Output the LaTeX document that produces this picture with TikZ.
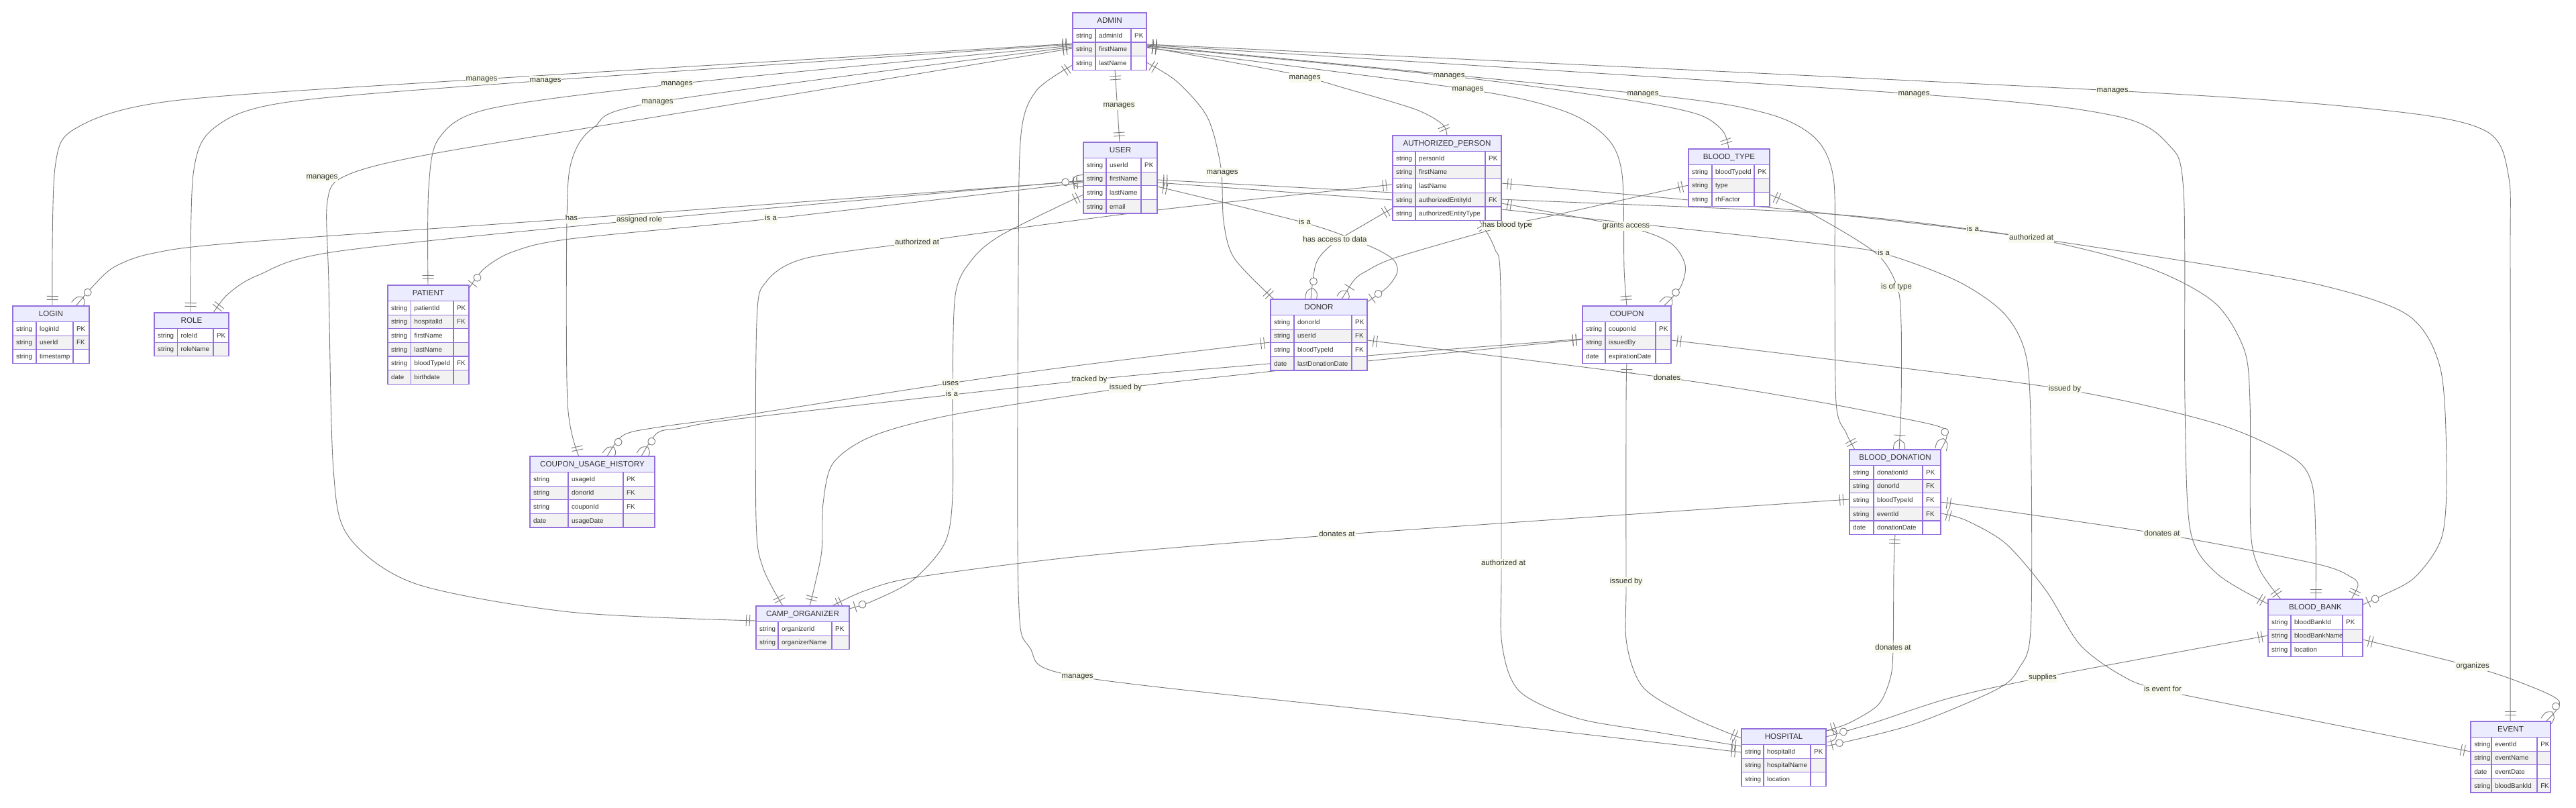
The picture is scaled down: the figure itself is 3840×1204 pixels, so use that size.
\documentclass[tikz,border=0pt]{standalone}
\usepackage{fontspec}
\setmainfont{Liberation Sans}
\usetikzlibrary{decorations.markings}
\definecolor{edgec}{RGB}{120,120,120}
\definecolor{entline}{RGB}{147,112,219}
\definecolor{hdrfill}{RGB}{236,236,255}
\definecolor{rowgray}{RGB}{242,242,242}
\definecolor{txtc}{RGB}{51,51,51}
\definecolor{lblbg}{RGB}{247,250,236}

\newcommand{\entnode}[5]{%
  \pgfmathsetmacro{\enth}{23.5+20.6*#5}%
  \node[ghost, minimum width=#4pt, minimum height=\enth pt, anchor=north west] (#1) at (#2,#3) {};}
\newcommand{\enthead}[5]{%
  \def\curent{#1}%
  \fill[hdrfill] (#2,#3) rectangle ++(#4,23.5);
  \node[hdrtxt] (#1-title) at (#2+#4/2,#3+11.75) {#5};}
\newcommand{\erow}[9]{%
  \ifodd#3\relax\colorlet{rfill}{rowgray}\else\colorlet{rfill}{white}\fi
  \fill[rfill] (#1,#2+23.5+20.6*#3) rectangle ++(#4,20.6);
  \draw[entl] (#1,#2+23.5+20.6*#3) -- ++(#4,0);
  \draw[entl] (#5,#2+23.5+20.6*#3) -- ++(0,20.6);
  \draw[entl] (#6,#2+23.5+20.6*#3) -- ++(0,20.6);
  \node[attr] (\curent-#3t) at (#1+5,#2+33.8+20.6*#3) {#7};
  \node[attr] (\curent-#3n) at (#5+5,#2+33.8+20.6*#3) {#8};
  \node[attr] (\curent-#3k) at (#6+5,#2+33.8+20.6*#3) {#9};}
\newcommand{\entborder}[1]{\draw[entl] (#1.north west) rectangle (#1.south east);}
% relationship: end style, start, second point, middle points, penultimate point, end
\newcommand{\erel}[6]{%
  \draw[rel] plot[smooth,tension=.5] coordinates {#2 #3 #4 #5 #6};
  \path[st1] #2 -- #3;
  \path[#1] #5 -- #6;}

\begin{document}
\begin{tikzpicture}[x=1pt,y=-1pt,
  ghost/.style={inner sep=0pt, outer sep=0pt, draw=none},
  entl/.style={draw=entline, line width=1.2pt},
  hdrtxt/.style={font=\fontsize{11.6}{13}\selectfont, text=txtc, inner sep=0pt, text height=8.3pt, text depth=0pt},
  attr/.style={font=\fontsize{9.8}{11}\selectfont, text=txtc, anchor=west, inner sep=0pt, text height=7pt, text depth=0pt},
  lbl/.style={font=\fontsize{11.4}{13}\selectfont, text=txtc, fill=lblbg, inner xsep=1pt, inner ysep=1.5pt, text height=8.2pt, text depth=2.4pt},
  rel/.style={draw=edgec, line width=0.9pt},
  tk/.style={draw=edgec, line width=0.9pt},
  st1/.style={postaction={decorate,decoration={markings,
     mark=at position 9.5pt with {\draw[tk] (0pt,-8.5pt)--(0pt,8.5pt);},
     mark=at position 14.5pt with {\draw[tk] (0pt,-8.5pt)--(0pt,8.5pt);}}}},
  en1/.style={postaction={decorate,decoration={markings,
     mark=at position -14.5pt with {\draw[tk] (0pt,-8.5pt)--(0pt,8.5pt);},
     mark=at position -9.5pt with {\draw[tk] (0pt,-8.5pt)--(0pt,8.5pt);}}}},
  enzm/.style={postaction={decorate,decoration={markings,
     mark=at position -27pt with {\draw[tk,fill=white] (0pt,0pt) circle (5.5pt);},
     mark=at position -17pt with {\draw[tk] (0pt,0pt) .. controls (5pt,8.5pt) .. (17pt,8.5pt);
                                  \draw[tk] (0pt,0pt) .. controls (5pt,-8.5pt) .. (17pt,-8.5pt);}}}},
  enzo/.style={postaction={decorate,decoration={markings,
     mark=at position -20.5pt with {\draw[tk,fill=white] (0pt,0pt) circle (5.5pt);},
     mark=at position -9pt with {\draw[tk] (0pt,-8.5pt)--(0pt,8.5pt);}}}},
  enom/.style={postaction={decorate,decoration={markings,
     mark=at position -21.5pt with {\draw[tk] (0pt,-8.5pt)--(0pt,8.5pt);},
     mark=at position -15pt with {\draw[tk] (0pt,0pt) .. controls (5pt,8.5pt) .. (15pt,8.5pt);
                                  \draw[tk] (0pt,0pt) .. controls (5pt,-8.5pt) .. (15pt,-8.5pt);}}}}
]
\fill[white] (0,0) rectangle (3840,1204);
\useasboundingbox (0,0) rectangle (3840,1204);

% ---------- entity frames (named) ----------
\entnode{admin}{1599}{19}{110}{3}
\entnode{user}{1615}{212}{110}{4}
\entnode{ap}{2076}{202}{162}{5}
\entnode{bt}{2517}{222}{121}{3}
\entnode{login}{19}{456}{114}{3}
\entnode{role}{230}{466}{111}{2}
\entnode{patient}{578}{425}{121}{6}
\entnode{donor}{1894}{446}{144}{4}
\entnode{coupon}{2359}{456}{132}{3}
\entnode{cuh}{790}{680}{186}{4}
\entnode{bd}{2757}{670}{136}{5}
\entnode{camp}{1127}{903}{139}{2}
\entnode{bb}{3381}{893}{141}{3}
\entnode{hospital}{2596}{1086}{126}{3}
\entnode{event}{3683}{1075}{119}{4}

% ---------- relationships ----------
% ADMIN manages (left)
\erel{en1}{([shift={(0,46)}]admin.north west)}{(718,118)}{(260,150) (115,190)}{(82,250)}{([shift={(59,0)}]login.north west)}
\erel{en1}{([shift={(0,47)}]admin.north west)}{(813,120)}{(430,152) (320,190)}{(288,260)}{([shift={(54,0)}]role.north west)}
\erel{en1}{([shift={(0,49)}]admin.north west)}{(1009,125)}{(730,162) (655,205)}{(639,280)}{([shift={(60,0)}]patient.north west)}
\erel{en1}{([shift={(0,51)}]admin.north west)}{(980,152)}{(885,190) (852,240) (845,330)}{(846,600)}{([shift={(73,0)}]cuh.north west)}
\erel{en1}{([shift={(0,53)}]admin.north west)}{(1040,164)}{(640,230) (515,262) (488,300) (490,420) (497,700) (520,800) (620,870)}{(850,912)}{([shift={(0,22)}]camp.north west)}
\draw[rel,st1,en1] ([shift={(63,85)}]admin.north west) -- ([shift={(54,0)}]user.north west);
\erel{en1}{([shift={(110,74)}]admin.north west)}{(1755,122)}{(1800,175) (1820,250) (1824,330)}{(1840,385)}{([shift={(5,0)}]donor.north west)}
\erel{en1}{([shift={(0,78)}]admin.north west)}{(1545,135)}{(1522,200) (1518,400) (1518,880) (1535,965) (1606,1008)}{(2100,1064)}{([shift={(0,35)}]hospital.north west)}
% ADMIN manages (right)
\erel{en1}{([shift={(110,51)}]admin.north west)}{(1917,108)}{(2010,133) (2110,163)}{(2150,185)}{([shift={(81,0)}]ap.north west)}
\erel{en1}{([shift={(110,52)}]admin.north west)}{(2187,133)}{(2330,165) (2395,205) (2418,260)}{(2421,400)}{([shift={(66,0)}]coupon.north west)}
\erel{en1}{([shift={(110,50)}]admin.north west)}{(2158,113)}{(2420,148) (2530,170)}{(2568,195)}{([shift={(60,0)}]bt.north west)}
\erel{en1}{([shift={(110,49)}]admin.north west)}{(2449,140)}{(2630,168) (2705,205) (2733,265) (2735,400) (2737,600)}{(2752,645)}{([shift={(8,0)}]bd.north west)}
\erel{en1}{([shift={(110,48)}]admin.north west)}{(2853,140)}{(3150,172) (3232,215) (3255,285) (3257,600) (3265,790)}{(3305,855)}{([shift={(0,7)}]bb.north west)}
\erel{en1}{([shift={(110,47)}]admin.north west)}{(3149,135)}{(3560,165) (3705,195) (3739,260)}{(3742,400)}{([shift={(59,0)}]event.north west)}
% USER
\erel{enzm}{([shift={(0,58)}]user.north west)}{(852,326)}{(350,362) (225,378) (170,398)}{(140,425)}{([shift={(94,0)}]login.north west)}
\erel{enzm}{([shift={(88,0)}]role.north west)}{(340,438)}{(385,410) (500,375)}{(953,328)}{([shift={(0,57)}]user.north west)}
\erel{enzo}{([shift={(0,60)}]user.north west)}{(1149,326)}{(850,356) (765,375)}{(722,400)}{([shift={(121,5)}]patient.north west)}
\erel{enzo}{([shift={(110,66)}]user.north west)}{(1945,332)}{(2033,363) (2075,385) (2083,405)}{(2068,428)}{([shift={(144,4)}]donor.north west)}
\erel{enzo}{([shift={(0,78)}]user.north west)}{(1493,350)}{(1448,388) (1424,440) (1420,587) (1420,740) (1408,810) (1360,865)}{(1300,896)}{([shift={(139,4)}]camp.north west)}
\erel{enzo}{([shift={(110,60)}]user.north west)}{(2076,298)}{(2238,312) (2700,362) (2808,378) (2920,420) (2990,470) (3022,540) (3028,700) (3027,940) (3010,995) (2977,1027)}{(2850,1080)}{([shift={(126,26)}]hospital.north west)}
\erel{enzo}{([shift={(110,56)}]user.north west)}{(2076,287)}{(2238,297) (2700,317) (2941,342) (3250,388) (3460,425) (3590,470) (3638,550) (3647,700) (3640,800) (3600,860)}{(3550,888)}{([shift={(141,8)}]bb.north west)}
% AUTHORIZED_PERSON
\erel{en1}{([shift={(0,73)}]ap.north west)}{(1725,313)}{(1443,350) (1367,361) (1200,385) (1142,420) (1128,480) (1127,773)}{(1137,845)}{([shift={(40,0)}]camp.north west)}
\erel{en1}{([shift={(129,126)}]ap.north west)}{(2228,370)}{(2237,430) (2238,840) (2239,960) (2265,1030) (2350,1070)}{(2470,1091)}{([shift={(0,26)}]hospital.north west)}
\erel{en1}{([shift={(162,71)}]ap.north west)}{(2517,298)}{(2740,320) (3028,355) (3200,398) (3300,450) (3345,520) (3354,600) (3355,790)}{(3368,848)}{([shift={(19,0)}]bb.north west)}
\erel{enzm}{([shift={(0,108)}]ap.north west)}{(2033,335)}{(1987,363)}{(1962,392)}{([shift={(60,0)}]donor.north west)}
\erel{enzm}{([shift={(162,101)}]ap.north west)}{(2425,338)}{(2490,362) (2512,395)}{(2505,428)}{([shift={(121,0)}]coupon.north west)}
% BLOOD_TYPE
\erel{enom}{([shift={(0,54)}]bt.north west)}{(2320,320)}{(2247,336) (2083,383) (2035,405)}{(2018,418)}{([shift={(106,0)}]donor.north west)}
\erel{enom}{([shift={(121,68)}]bt.north west)}{(2700,318)}{(2796,377) (2828,427) (2834,483)}{(2834,600)}{([shift={(74,0)}]bd.north west)}
% DONOR
\erel{enzm}{([shift={(0,64)}]donor.north west)}{(1620,543)}{(1417,571) (1100,620) (985,636)}{(930,648)}{([shift={(115,0)}]cuh.north west)}
\erel{enzm}{([shift={(144,61)}]donor.north west)}{(2485,563)}{(2700,597) (2830,622)}{(2900,640)}{([shift={(136,0)}]bd.north west)}
% COUPON
\erel{enzm}{([shift={(0,49)}]coupon.north west)}{(2038,530)}{(1880,543) (1624,566) (1110,623) (1015,638)}{(980,645)}{([shift={(166,0)}]cuh.north west)}
\erel{en1}{([shift={(0,50)}]coupon.north west)}{(2038,538)}{(1880,555) (1678,578) (1420,618) (1300,650) (1242,690) (1227,750) (1225,820)}{(1215,870)}{([shift={(80,0)}]camp.north west)}
\erel{en1}{([shift={(132,51)}]coupon.north west)}{(2700,532)}{(3076,580) (3300,630) (3415,680) (3446,720)}{(3452,800)}{([shift={(71,0)}]bb.north west)}
\erel{en1}{([shift={(66,85)}]coupon.north west)}{(2424,600)}{(2424,867) (2425,960) (2450,1025)}{(2520,1068)}{([shift={(0,14)}]hospital.north west)}
% BLOOD_DONATION
\erel{en1}{([shift={(0,74)}]bd.north west)}{(1993,797)}{(1620,828) (1367,860)}{(1290,880)}{([shift={(113,0)}]camp.north west)}
\erel{en1}{([shift={(136,78)}]bd.north west)}{(3223,796)}{(3452,840) (3505,860)}{(3515,872)}{([shift={(124,0)}]bb.north west)}
\erel{en1}{([shift={(68,125)}]bd.north west)}{(2823,850)}{(2822,967) (2818,1010) (2800,1050)}{(2757,1077)}{([shift={(126,3)}]hospital.north west)}
\erel{en1}{([shift={(136,95)}]bd.north west)}{(2930,775)}{(2990,810) (3050,880) (3100,960) (3160,1005) (3221,1028)}{(3450,1074)}{([shift={(0,45)}]event.north west)}
% BLOOD_BANK
\erel{enzm}{([shift={(0,54)}]bb.north west)}{(3047,1009)}{(2907,1040)}{(2790,1078)}{([shift={(126,12)}]hospital.north west)}
\erel{enzm}{([shift={(141,60)}]bb.north west)}{(3684,993)}{(3760,1018)}{(3815,1045)}{([shift={(112,0)}]event.north west)}

% ---------- entities ----------
\enthead{admin}{1599}{19}{110}{ADMIN}
\erow{1599}{19}{0}{110}{1633}{1686}{string}{adminId}{PK}
\erow{1599}{19}{1}{110}{1633}{1686}{string}{firstName}{}
\erow{1599}{19}{2}{110}{1633}{1686}{string}{lastName}{}
\entborder{admin}

\enthead{user}{1615}{212}{110}{USER}
\erow{1615}{212}{0}{110}{1649}{1701}{string}{userId}{PK}
\erow{1615}{212}{1}{110}{1649}{1701}{string}{firstName}{}
\erow{1615}{212}{2}{110}{1649}{1701}{string}{lastName}{}
\erow{1615}{212}{3}{110}{1649}{1701}{string}{email}{}
\entborder{user}

\enthead{ap}{2076}{202}{162}{AUTHORIZED\_PERSON}
\erow{2076}{202}{0}{162}{2110}{2214}{string}{personId}{PK}
\erow{2076}{202}{1}{162}{2110}{2214}{string}{firstName}{}
\erow{2076}{202}{2}{162}{2110}{2214}{string}{lastName}{}
\erow{2076}{202}{3}{162}{2110}{2214}{string}{authorizedEntityId}{FK}
\erow{2076}{202}{4}{162}{2110}{2214}{string}{authorizedEntityType}{}
\entborder{ap}

\enthead{bt}{2517}{222}{121}{BLOOD\_TYPE}
\erow{2517}{222}{0}{121}{2552}{2615}{string}{bloodTypeId}{PK}
\erow{2517}{222}{1}{121}{2552}{2615}{string}{type}{}
\erow{2517}{222}{2}{121}{2552}{2615}{string}{rhFactor}{}
\entborder{bt}

\enthead{login}{19}{456}{114}{LOGIN}
\erow{19}{456}{0}{114}{54}{109}{string}{loginId}{PK}
\erow{19}{456}{1}{114}{54}{109}{string}{userId}{FK}
\erow{19}{456}{2}{114}{54}{109}{string}{timestamp}{}
\entborder{login}

\enthead{role}{230}{466}{111}{ROLE}
\erow{230}{466}{0}{111}{264.5}{318}{string}{roleId}{PK}
\erow{230}{466}{1}{111}{264.5}{318}{string}{roleName}{}
\entborder{role}

\enthead{patient}{578}{425}{121}{PATIENT}
\erow{578}{425}{0}{121}{612.5}{676}{string}{patientId}{PK}
\erow{578}{425}{1}{121}{612.5}{676}{string}{hospitalId}{FK}
\erow{578}{425}{2}{121}{612.5}{676}{string}{firstName}{}
\erow{578}{425}{3}{121}{612.5}{676}{string}{lastName}{}
\erow{578}{425}{4}{121}{612.5}{676}{string}{bloodTypeId}{FK}
\erow{578}{425}{5}{121}{612.5}{676}{date}{birthdate}{}
\entborder{patient}

\enthead{donor}{1894}{446}{144}{DONOR}
\erow{1894}{446}{0}{144}{1929}{2015}{string}{donorId}{PK}
\erow{1894}{446}{1}{144}{1929}{2015}{string}{userId}{FK}
\erow{1894}{446}{2}{144}{1929}{2015}{string}{bloodTypeId}{FK}
\erow{1894}{446}{3}{144}{1929}{2015}{date}{lastDonationDate}{}
\entborder{donor}

\enthead{coupon}{2359}{456}{132}{COUPON}
\erow{2359}{456}{0}{132}{2393}{2468}{string}{couponId}{PK}
\erow{2359}{456}{1}{132}{2393}{2468}{string}{issuedBy}{}
\erow{2359}{456}{2}{132}{2393}{2468}{date}{expirationDate}{}
\entborder{coupon}

\enthead{cuh}{790}{680}{186}{COUPON\_USAGE\_HISTORY}
\erow{790}{680}{0}{186}{847}{929}{string}{usageId}{PK}
\erow{790}{680}{1}{186}{847}{929}{string}{donorId}{FK}
\erow{790}{680}{2}{186}{847}{929}{string}{couponId}{FK}
\erow{790}{680}{3}{186}{847}{929}{date}{usageDate}{}
\entborder{cuh}

\enthead{bd}{2757}{670}{136}{BLOOD\_DONATION}
\erow{2757}{670}{0}{136}{2793}{2866}{string}{donationId}{PK}
\erow{2757}{670}{1}{136}{2793}{2866}{string}{donorId}{FK}
\erow{2757}{670}{2}{136}{2793}{2866}{string}{bloodTypeId}{FK}
\erow{2757}{670}{3}{136}{2793}{2866}{string}{eventId}{FK}
\erow{2757}{670}{4}{136}{2793}{2866}{date}{donationDate}{}
\entborder{bd}

\enthead{camp}{1127}{903}{139}{CAMP\_ORGANIZER}
\erow{1127}{903}{0}{139}{1160}{1240}{string}{organizerId}{PK}
\erow{1127}{903}{1}{139}{1160}{1240}{string}{organizerName}{}
\entborder{camp}

\enthead{bb}{3381}{893}{141}{BLOOD\_BANK}
\erow{3381}{893}{0}{141}{3415}{3492}{string}{bloodBankId}{PK}
\erow{3381}{893}{1}{141}{3415}{3492}{string}{bloodBankName}{}
\erow{3381}{893}{2}{141}{3415}{3492}{string}{location}{}
\entborder{bb}

\enthead{hospital}{2596}{1086}{126}{HOSPITAL}
\erow{2596}{1086}{0}{126}{2629}{2699}{string}{hospitalId}{PK}
\erow{2596}{1086}{1}{126}{2629}{2699}{string}{hospitalName}{}
\erow{2596}{1086}{2}{126}{2629}{2699}{string}{location}{}
\entborder{hospital}

\enthead{event}{3683}{1075}{119}{EVENT}
\erow{3683}{1075}{0}{119}{3714}{3782}{string}{eventId}{PK}
\erow{3683}{1075}{1}{119}{3714}{3782}{string}{eventName}{}
\erow{3683}{1075}{2}{119}{3714}{3782}{date}{eventDate}{}
\erow{3683}{1075}{3}{119}{3714}{3782}{string}{bloodBankId}{FK}
\entborder{event}

% ---------- relationship labels ----------
\node[lbl] (lm1) at (718,118) {manages};
\node[lbl] (lm2) at (813,120) {manages};
\node[lbl] (lm3) at (1009,125) {manages};
\node[lbl] (lm4) at (980,152) {manages};
\node[lbl] (lm5) at (480,264) {manages};
\node[lbl] (lm6) at (1668,157) {manages};
\node[lbl] (lm7) at (1822,257) {manages};
\node[lbl] (lm8) at (1606,1008) {manages};
\node[lbl] (lm9) at (1945,116) {manages};
\node[lbl] (lm10) at (2188,133) {manages};
\node[lbl] (lm11) at (2160,113) {manages};
\node[lbl] (lm12) at (2449,140) {manages};
\node[lbl] (lm13) at (2853,140) {manages};
\node[lbl] (lm14) at (3149,135) {manages};
\node[lbl] (l15) at (852,326) {has};
\node[lbl] (l16) at (953,328) {assigned role};
\node[lbl] (l17) at (1149,326) {is a};
\node[lbl] (l18) at (1945,332) {is a};
\node[lbl] (l19) at (1419,588) {is a};
\node[lbl] (l20) at (2808,378) {is a};
\node[lbl] (l21) at (2941,342) {is a};
\node[lbl] (l22) at (1367,362) {authorized at};
\node[lbl] (l23) at (2241,840) {authorized at};
\node[lbl] (l24) at (3028,355) {authorized at};
\node[lbl] (l25) at (1990,358) {has access to data};
\node[lbl] (l26) at (2424,337) {grants access};
\node[lbl] (l27) at (2247,336) {has blood type};
\node[lbl] (l28) at (2827,428) {is of type};
\node[lbl] (l29) at (1417,572) {uses};
\node[lbl] (l30) at (2485,564) {donates};
\node[lbl] (l31) at (1624,566) {tracked by};
\node[lbl] (l32) at (1678,578) {issued by};
\node[lbl] (l33) at (3078,580) {issued by};
\node[lbl] (l34) at (2424,867) {issued by};
\node[lbl] (l35) at (1993,797) {donates at};
\node[lbl] (l36) at (3223,796) {donates at};
\node[lbl] (l37) at (2822,966) {donates at};
\node[lbl] (l38) at (3224,1028) {is event for};
\node[lbl] (l39) at (3045,1010) {supplies};
\node[lbl] (l40) at (3686,993) {organizes};
\end{tikzpicture}
\end{document}
